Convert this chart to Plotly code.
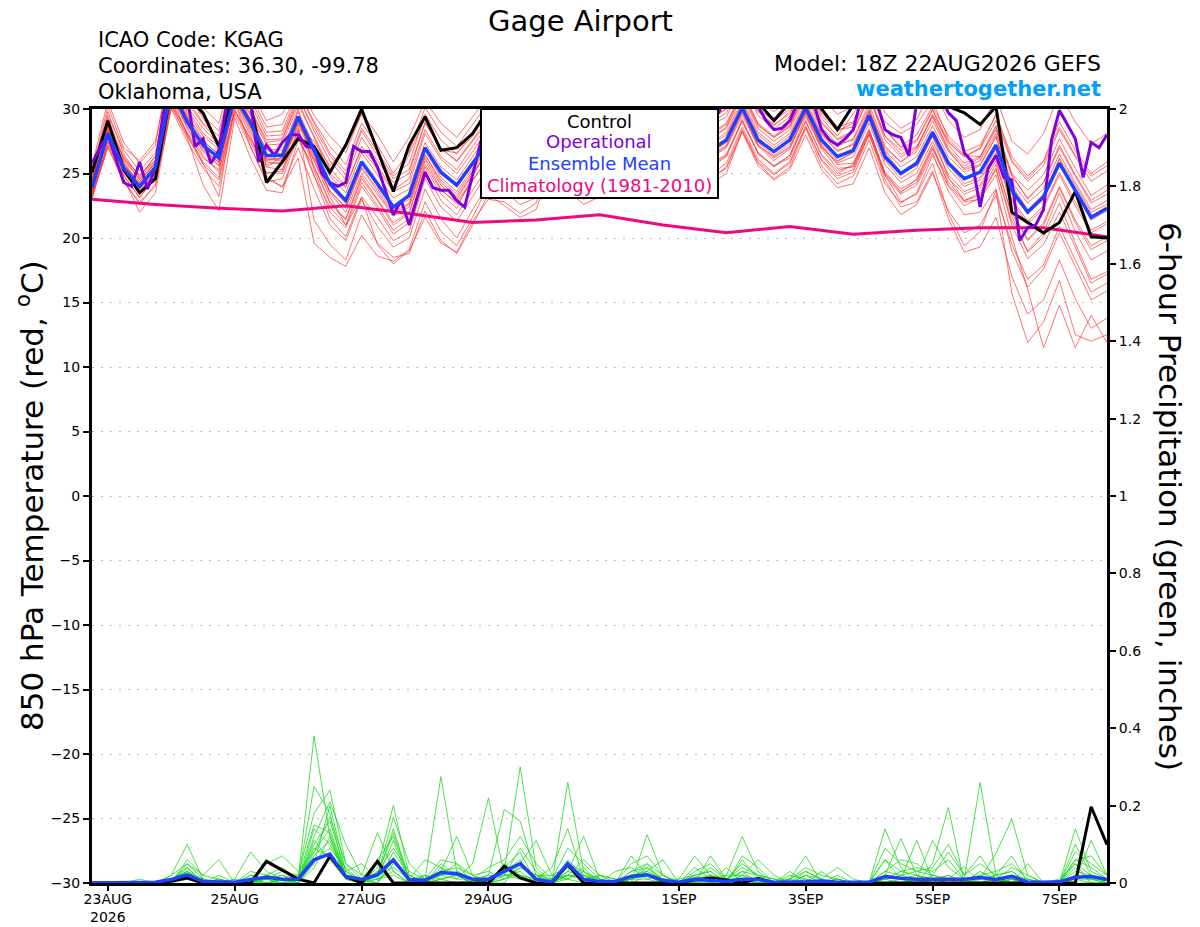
import pandas as pd
import plotly.graph_objects as go

# GEFS 18Z 22AUG2026 run, 6-hourly out to 384 h (operational GFS is 3-hourly)
times = pd.date_range("2026-08-22 18:00", periods=65, freq="6h")
times_op = pd.date_range("2026-08-22 18:00", periods=129, freq="3h")
times_clim = pd.date_range("2026-08-22 18:00", periods=17, freq="24h")

tick_dates = ["2026-08-23", "2026-08-25", "2026-08-27", "2026-08-29",
              "2026-09-01", "2026-09-03", "2026-09-05", "2026-09-07"]
tick_labels = ["23AUG<br>2026", "25AUG", "27AUG", "29AUG", "1SEP", "3SEP", "5SEP", "7SEP"]

# 850 hPa temperature (C)
control_t = [25.1, 29.1, 25.3, 23.5, 24.6, 31.5, 31.0, 29.7, 27.1, 31.5, 30.3, 24.3, 25.9,
             27.7, 27.1, 25.1, 27.2, 30.0, 26.8, 23.6, 27.2, 29.4, 26.8, 27.0, 28.1, 30.0,
             29.0, 28.0, 28.5, 31.5, 29.5, 28.5, 29.0, 31.5, 30.0, 29.0, 29.5, 32.0, 30.5,
             30.2, 30.5, 32.0, 30.5, 29.1, 30.5, 32.0, 30.0, 28.4, 30.3, 32.0, 30.5, 30.2,
             30.5, 31.5, 30.2, 29.7, 28.8, 30.2, 22.0, 21.2, 20.4, 21.2, 23.6, 20.1, 20.0]
mean_t = [23.9, 28.1, 25.4, 24.0, 25.5, 31.5, 29.0, 27.2, 26.2, 31.0, 28.9, 26.4, 26.4,
          29.4, 26.8, 24.2, 22.9, 25.9, 24.2, 22.4, 23.3, 27.0, 25.1, 24.1, 25.8, 27.5,
          26.5, 25.5, 26.0, 29.0, 27.0, 26.0, 26.5, 29.5, 27.5, 26.5, 27.0, 29.8, 27.8,
          26.8, 27.6, 30.1, 27.6, 26.7, 27.6, 30.1, 27.6, 26.3, 26.8, 29.5, 26.3, 25.0,
          25.8, 28.2, 25.8, 24.6, 25.1, 27.2, 23.7, 22.0, 23.2, 25.8, 23.7, 21.6, 22.3]
operational_t = [25.8, 27.0, 28.0, 26.2, 24.3, 24.0, 25.9, 23.8, 25.5, 29.7,
                 31.5, 32.0, 31.0, 27.1, 27.7, 25.8, 26.8, 30.5, 31.5, 31.0,
                 30.5, 25.9, 27.2, 26.4, 27.4, 28.0, 28.0, 27.1, 27.0, 25.0,
                 24.3, 24.0, 24.3, 27.1, 26.7, 26.7, 25.5, 23.7, 21.8, 22.9,
                 21.0, 23.1, 25.1, 23.9, 23.7, 23.7, 22.9, 22.4, 25.0, 27.4,
                 29.5, 31.0, 30.0, 28.5, 27.5, 27.0, 27.5, 29.5, 31.0, 31.5,
                 30.5, 28.5, 27.5, 27.0, 28.0, 30.0, 31.0, 31.5, 30.5, 29.0,
                 28.0, 27.5, 28.0, 30.0, 31.5, 32.0, 31.0, 29.5, 29.0, 29.7,
                 31.0, 32.0, 31.5, 30.5, 30.2, 29.1, 28.4, 28.5, 29.1, 30.5,
                 31.5, 30.5, 28.4, 27.6, 27.2, 27.7, 28.4, 30.8, 31.5, 30.5,
                 28.4, 28.0, 27.8, 26.4, 30.5, 32.0, 32.0, 31.0, 29.7, 29.1,
                 26.6, 25.9, 22.4, 25.4, 26.4, 24.7, 24.5, 19.8, 20.8, 21.0,
                 22.2, 27.6, 29.9, 28.8, 27.7, 24.7, 27.4, 27.0, 28.0]
clim_t = [23.0, 22.6, 22.3, 22.1, 22.5, 21.9, 21.2, 21.4, 21.8,
          21.0, 20.4, 20.9, 20.3, 20.6, 20.8, 20.8, 20.1]

temp_m01 = [24.5, 29.5, 26.8, 25.2, 26.6, 33.0, 30.5, 28.8, 27.5, 32.5, 30.4, 27.9, 28.0,
            31.0, 28.3, 26.0, 24.5, 27.8, 26.0, 24.3, 25.0, 29.0, 26.9, 26.0, 27.6, 29.4,
            28.5, 27.2, 27.9, 31.0, 29.0, 27.8, 28.4, 31.5, 29.4, 28.3, 29.0, 31.8, 29.6,
            28.7, 29.4, 32.0, 29.5, 28.5, 29.4, 32.0, 29.5, 28.3, 28.9, 31.6, 28.4, 27.1,
            28.0, 30.2, 27.9, 26.7, 27.2, 29.5, 26.0, 24.6, 25.9, 28.6, 26.4, 24.8, 25.6]
temp_m02 = [23.3, 27.4, 24.9, 23.1, 24.8, 30.6, 28.1, 25.9, 24.7, 30.0, 27.6, 25.1, 25.0,
            28.1, 24.9, 21.5, 20.1, 23.2, 21.6, 19.8, 20.5, 24.6, 22.4, 21.3, 23.2, 25.2,
            24.3, 23.1, 23.7, 27.0, 24.8, 23.7, 24.3, 27.5, 25.2, 24.0, 24.6, 27.9, 25.7,
            24.6, 25.4, 28.2, 25.6, 24.5, 25.3, 28.0, 25.3, 23.9, 24.2, 27.0, 23.5, 21.8,
            22.6, 25.0, 22.1, 20.4, 21.0, 23.3, 19.5, 16.8, 17.9, 20.9, 18.3, 15.8, 16.5]
temp_m03 = [24.1, 28.6, 25.8, 24.3, 25.9, 31.9, 29.4, 27.0, 25.6, 30.5, 27.9, 24.8, 23.9,
            26.2, 19.6, 18.5, 17.8, 20.2, 18.6, 18.2, 19.1, 22.8, 20.5, 19.4, 21.6, 24.1,
            25.3, 24.6, 25.2, 28.6, 26.4, 25.3, 25.8, 29.1, 27.0, 25.8, 26.3, 29.2, 27.1,
            26.2, 27.0, 29.5, 27.1, 26.0, 26.9, 29.8, 27.2, 25.7, 25.8, 28.4, 24.9, 22.8,
            23.4, 25.8, 21.9, 19.4, 20.5, 23.7, 15.7, 11.9, 13.5, 16.7, 12.5, 12.0, 12.5]
temp_m04 = [24.8, 28.9, 25.9, 23.9, 24.9, 32.4, 31.2, 29.3, 27.4, 32.1, 30.6, 25.5, 26.3,
            28.5, 27.5, 25.6, 27.0, 29.6, 26.9, 23.9, 26.5, 29.3, 26.8, 26.6, 27.9, 29.8,
            28.8, 27.6, 28.1, 31.2, 29.3, 28.2, 28.7, 31.4, 29.7, 28.6, 29.2, 31.9, 30.1,
            29.4, 30.0, 31.8, 29.8, 28.7, 29.8, 31.7, 29.3, 27.9, 29.6, 31.4, 29.0, 28.1,
            28.8, 30.6, 27.7, 26.4, 26.3, 28.7, 23.4, 21.9, 23.0, 26.2, 24.1, 22.0, 22.6]
temp_m05 = [23.0, 27.5, 24.6, 22.0, 23.5, 30.2, 27.8, 24.1, 22.1, 29.3, 26.2, 23.7, 23.5,
            27.6, 25.5, 22.7, 21.4, 24.6, 22.9, 21.0, 21.9, 26.0, 23.8, 22.6, 24.4, 26.3,
            25.2, 24.0, 24.6, 28.0, 25.8, 24.7, 25.2, 28.6, 26.3, 25.2, 25.8, 29.0, 26.8,
            25.6, 26.4, 29.2, 26.5, 25.6, 26.2, 29.1, 26.4, 25.0, 25.7, 28.4, 25.0, 23.5,
            24.6, 27.2, 24.1, 22.8, 23.0, 24.9, 20.1, 16.0, 11.5, 14.8, 11.5, 14.0, 11.9]
temp_m06 = [24.2, 28.0, 26.0, 24.6, 26.1, 32.2, 29.8, 27.9, 26.9, 31.7, 29.6, 27.2, 27.3,
            30.3, 27.9, 25.4, 24.0, 26.9, 25.3, 23.6, 24.2, 28.1, 26.1, 25.0, 26.7, 28.5,
            27.4, 26.4, 26.9, 30.0, 28.0, 26.9, 27.4, 30.4, 28.4, 27.3, 27.9, 30.7, 28.7,
            27.7, 28.5, 31.0, 28.5, 27.5, 28.4, 30.9, 28.4, 27.1, 27.7, 30.4, 27.1, 25.9,
            26.7, 29.1, 26.7, 25.4, 26.0, 28.1, 24.8, 23.1, 24.3, 27.0, 24.8, 22.7, 23.4]
temp_m07 = [23.4, 27.2, 24.8, 23.2, 24.6, 30.4, 28.2, 26.2, 25.3, 29.8, 27.7, 25.5, 25.3,
            28.4, 25.6, 22.8, 21.5, 24.8, 23.0, 21.2, 22.0, 25.7, 23.7, 22.8, 24.5, 26.2,
            25.4, 24.4, 24.9, 28.0, 26.0, 24.9, 25.5, 28.4, 26.4, 25.4, 25.9, 28.7, 26.7,
            25.7, 26.5, 29.0, 26.6, 25.6, 26.4, 29.0, 26.5, 25.2, 25.6, 28.3, 25.1, 23.8,
            24.5, 27.0, 24.6, 23.4, 23.9, 26.0, 21.7, 18.9, 20.1, 22.7, 19.6, 16.8, 17.4]
temp_m08 = [25.6, 30.6, 27.4, 25.8, 27.2, 33.8, 31.6, 30.1, 28.9, 33.4, 31.5, 29.1, 29.6,
            32.0, 29.5, 27.9, 26.6, 29.7, 28.0, 25.9, 27.8, 30.6, 28.9, 27.8, 29.4, 31.0,
            30.0, 28.8, 29.4, 32.5, 30.4, 29.3, 29.9, 32.8, 30.8, 29.7, 30.3, 33.1, 31.0,
            30.1, 30.8, 33.2, 30.7, 29.8, 30.7, 33.4, 30.9, 29.6, 30.2, 32.9, 29.7, 28.5,
            29.2, 31.6, 29.1, 27.8, 28.4, 30.9, 27.5, 26.5, 28.1, 31.2, 29.0, 27.3, 28.1]
temp_m09 = [23.6, 27.8, 25.1, 23.5, 25.0, 31.2, 28.6, 26.7, 25.6, 30.8, 28.4, 25.9, 25.7,
            28.8, 21.4, 19.5, 18.3, 21.8, 19.6, 18.5, 18.8, 22.1, 19.8, 18.8, 21.0, 23.4,
            22.5, 21.6, 22.2, 25.6, 23.7, 22.6, 23.2, 26.8, 24.6, 23.5, 24.1, 27.5, 25.3,
            24.2, 25.0, 28.3, 25.8, 24.6, 25.5, 28.5, 25.6, 24.2, 24.8, 27.6, 24.2, 22.7,
            23.5, 26.4, 24.0, 22.5, 23.1, 25.3, 21.3, 19.0, 20.4, 23.5, 20.5, 18.3, 19.0]
temp_m10 = [24.4, 28.8, 26.3, 24.8, 26.3, 32.6, 30.2, 28.5, 27.3, 32.0, 30.0, 27.6, 27.7,
            30.8, 28.6, 26.4, 24.9, 28.3, 26.4, 24.6, 25.3, 28.9, 27.0, 25.9, 27.5, 29.1,
            28.2, 27.0, 27.6, 30.6, 28.6, 27.6, 28.1, 31.0, 29.0, 27.9, 28.5, 31.2, 29.2,
            28.1, 28.9, 31.3, 28.8, 27.8, 28.7, 31.2, 28.6, 27.3, 27.6, 30.1, 26.7, 25.1,
            25.6, 27.9, 24.7, 22.9, 23.3, 25.4, 21.0, 18.4, 19.5, 22.0, 19.3, 16.5, 17.2]
temp_m11 = [23.8, 28.3, 25.6, 24.4, 25.8, 31.7, 29.4, 27.5, 26.5, 31.3, 29.2, 26.8, 26.5,
            29.8, 27.2, 24.8, 23.5, 26.6, 24.9, 23.1, 23.8, 27.4, 25.5, 24.5, 26.3, 28.1,
            27.0, 25.9, 26.4, 29.4, 27.4, 26.3, 26.9, 29.9, 27.9, 26.8, 27.4, 30.2, 28.1,
            27.2, 28.0, 30.5, 28.0, 27.0, 27.9, 30.4, 28.0, 26.7, 27.3, 29.9, 26.8, 25.5,
            26.3, 28.7, 26.3, 25.1, 25.6, 27.8, 24.3, 22.7, 23.8, 26.5, 24.3, 22.2, 22.9]
temp_m12 = [23.2, 27.0, 24.5, 22.6, 24.2, 30.0, 27.5, 25.4, 24.0, 29.6, 27.1, 24.3, 24.6,
            27.9, 24.8, 22.4, 21.0, 24.3, 22.5, 20.6, 21.5, 25.2, 22.9, 21.8, 23.7, 25.6,
            24.8, 23.8, 24.4, 27.6, 25.6, 24.6, 25.0, 28.2, 26.1, 25.0, 25.6, 28.6, 26.6,
            25.5, 26.3, 29.1, 26.6, 25.5, 26.4, 29.4, 27.0, 25.9, 26.7, 29.8, 27.0, 25.9,
            26.9, 29.6, 27.4, 26.3, 27.0, 29.6, 26.3, 24.8, 26.0, 29.0, 26.8, 25.0, 25.9]
temp_m13 = [25.1, 30.2, 27.0, 26.0, 27.5, 33.5, 31.0, 29.5, 28.3, 33.0, 31.1, 28.6, 28.8,
            31.5, 29.0, 27.1, 25.7, 28.9, 27.2, 25.0, 26.7, 30.1, 28.2, 27.1, 28.8, 30.5,
            29.4, 28.3, 28.8, 31.9, 29.8, 28.7, 29.3, 32.2, 30.1, 29.0, 29.6, 32.5, 30.3,
            29.2, 30.0, 32.6, 30.0, 29.1, 30.0, 32.7, 30.1, 28.6, 29.0, 31.8, 28.4, 27.0,
            27.6, 30.0, 27.2, 25.8, 26.3, 28.6, 25.0, 23.7, 24.9, 27.7, 25.4, 23.3, 24.1]
temp_m14 = [24.0, 28.4, 25.3, 23.7, 25.4, 31.0, 28.0, 25.8, 23.2, 30.6, 27.0, 24.6, 24.0,
            27.0, 23.8, 21.0, 19.8, 23.0, 20.9, 19.3, 20.0, 23.8, 21.5, 20.0, 22.2, 24.2,
            23.6, 22.6, 23.1, 26.4, 24.4, 23.4, 23.9, 27.2, 25.1, 24.1, 24.6, 27.8, 25.9,
            24.9, 25.8, 28.6, 26.1, 25.0, 25.9, 28.7, 26.0, 24.6, 25.1, 28.0, 24.8, 23.4,
            24.1, 26.6, 23.6, 21.8, 22.0, 23.8, 19.0, 16.2, 17.6, 20.4, 17.8, 15.2, 15.9]
temp_m15 = [24.3, 29.0, 25.7, 24.1, 25.7, 32.0, 29.2, 27.3, 26.0, 31.5, 29.5, 26.1, 26.0,
            29.0, 26.6, 24.0, 22.7, 25.8, 24.0, 22.3, 23.0, 26.8, 24.7, 23.6, 25.4, 27.3,
            26.2, 25.2, 25.8, 28.9, 26.8, 25.8, 26.2, 29.4, 27.3, 26.2, 26.8, 29.6, 27.6,
            26.6, 27.4, 30.0, 27.4, 26.4, 27.3, 29.8, 27.3, 26.0, 26.6, 29.2, 26.0, 24.6,
            25.4, 27.9, 25.4, 24.0, 24.5, 26.6, 23.0, 21.3, 22.5, 25.1, 22.8, 20.6, 21.3]
temp_m16 = [23.7, 28.2, 25.0, 23.8, 25.2, 31.3, 28.8, 26.8, 25.9, 30.9, 28.6, 26.2, 26.1,
            29.2, 26.4, 23.5, 22.0, 25.0, 23.4, 21.7, 22.4, 26.2, 24.1, 23.0, 24.9, 26.8,
            25.8, 24.8, 25.3, 28.4, 26.3, 25.3, 25.7, 28.9, 26.9, 25.9, 26.4, 29.3, 27.3,
            26.3, 27.1, 29.7, 27.2, 26.3, 27.1, 29.7, 27.1, 25.8, 26.3, 28.9, 25.7, 24.3,
            25.0, 27.5, 24.9, 23.6, 24.1, 26.3, 22.8, 21.1, 22.3, 24.9, 22.5, 20.4, 21.1]
temp_m17 = [24.6, 28.7, 26.2, 24.5, 25.9, 32.3, 29.6, 27.6, 26.4, 31.8, 29.1, 26.9, 26.8,
            30.0, 25.3, 22.0, 20.8, 24.0, 22.3, 20.3, 21.2, 25.5, 23.4, 22.3, 24.8, 27.0,
            26.8, 25.6, 26.3, 29.6, 27.5, 26.5, 27.0, 30.1, 28.1, 27.0, 27.6, 30.5, 28.3,
            27.3, 28.2, 30.7, 28.2, 27.2, 28.1, 30.6, 28.1, 26.8, 27.2, 29.8, 26.5, 25.0,
            25.9, 28.3, 25.7, 24.2, 24.7, 26.9, 22.2, 19.8, 21.0, 23.9, 21.2, 19.1, 19.8]
temp_m18 = [23.1, 27.1, 24.3, 22.8, 24.0, 30.3, 27.9, 25.7, 24.5, 29.9, 27.4, 25.0, 25.2,
            28.3, 26.0, 23.6, 22.4, 25.5, 23.8, 22.0, 22.7, 26.4, 24.5, 23.4, 25.2, 27.2,
            26.5, 25.5, 26.1, 29.3, 27.2, 26.2, 26.8, 30.0, 28.0, 27.0, 27.6, 30.6, 28.6,
            27.7, 28.6, 31.2, 28.7, 27.8, 28.6, 31.3, 28.9, 27.6, 28.2, 30.9, 27.9, 26.8,
            27.5, 29.9, 27.5, 26.3, 26.9, 29.1, 25.9, 24.4, 25.6, 28.4, 26.3, 24.4, 25.2]
temp_m19 = [24.0, 28.5, 25.5, 24.2, 25.6, 31.6, 29.3, 27.0, 25.8, 31.2, 28.7, 26.0, 26.2,
            29.1, 26.2, 23.7, 22.3, 25.4, 23.6, 21.8, 22.6, 26.5, 24.3, 23.2, 25.0, 26.9,
            25.9, 24.9, 25.5, 28.7, 26.6, 25.5, 26.0, 29.2, 27.1, 26.0, 26.6, 29.4, 27.3,
            26.4, 27.2, 29.8, 27.2, 26.2, 27.0, 29.6, 26.9, 25.4, 25.5, 28.1, 24.5, 22.4,
            22.8, 25.2, 21.5, 18.9, 19.3, 21.6, 17.0, 14.1, 15.2, 18.3, 15.3, 13.0, 13.8]
temp_m20 = [24.9, 29.8, 26.5, 24.7, 26.4, 32.9, 30.8, 28.9, 27.9, 32.6, 30.8, 28.2, 28.3,
            31.3, 28.9, 26.6, 25.2, 28.5, 26.7, 24.8, 25.8, 29.6, 27.6, 26.5, 28.2, 29.9,
            28.9, 27.8, 28.3, 31.4, 29.4, 28.3, 28.8, 31.7, 29.7, 28.6, 29.3, 32.0, 29.9,
            28.9, 29.7, 32.3, 29.8, 28.8, 29.6, 32.2, 29.7, 28.4, 28.6, 31.2, 27.9, 26.5,
            27.1, 29.4, 26.8, 25.3, 25.7, 27.9, 24.1, 22.2, 23.4, 26.1, 23.6, 21.4, 22.1]
temp_m21 = [23.5, 27.9, 25.2, 23.6, 25.1, 31.1, 28.5, 26.4, 25.1, 30.7, 28.2, 25.7, 25.9,
            28.9, 26.0, 23.2, 21.0, 23.1, 19.5, 18.0, 19.0, 21.6, 19.6, 18.9, 21.3, 23.0,
            22.8, 21.9, 22.7, 26.0, 24.0, 23.0, 23.6, 27.0, 25.0, 23.9, 24.5, 27.6, 25.6,
            24.6, 25.5, 28.4, 25.9, 24.9, 25.8, 28.6, 26.1, 24.8, 25.3, 28.1, 25.0, 23.6,
            24.3, 26.9, 24.3, 22.9, 23.5, 25.7, 21.9, 19.9, 21.2, 24.0, 21.4, 19.4, 20.1]
temp_m22 = [24.6, 29.3, 26.1, 24.9, 26.0, 32.5, 30.0, 28.1, 27.1, 32.2, 29.9, 27.4, 27.6,
            30.6, 27.8, 25.0, 23.9, 27.1, 25.6, 23.7, 24.6, 28.4, 26.3, 25.3, 27.1, 28.8,
            27.8, 26.6, 27.3, 30.3, 28.3, 27.2, 27.8, 30.8, 28.7, 27.6, 28.2, 31.0, 29.0,
            28.0, 28.8, 31.4, 28.9, 27.9, 28.8, 31.5, 29.0, 27.7, 28.3, 31.0, 27.6, 26.3,
            27.0, 29.5, 26.9, 25.6, 26.2, 28.4, 24.9, 23.0, 24.3, 27.2, 24.9, 22.9, 23.7]

# 6-hour precipitation (inches)
control_p = [0, 0, 0, 0, 0, 0.005, 0.013, 0, 0, 0, 0, 0.056, 0.034,
             0.01, 0, 0.069, 0.017, 0, 0.056, 0, 0, 0, 0, 0, 0, 0,
             0.043, 0.013, 0, 0, 0.047, 0, 0, 0, 0, 0, 0, 0, 0.008,
             0.013, 0.008, 0, 0.012, 0, 0, 0, 0, 0, 0, 0, 0, 0,
             0, 0, 0, 0, 0, 0, 0, 0, 0, 0, 0, 0.197, 0.099]
mean_p = [0, 0.001, 0.001, 0.002, 0.002, 0.009, 0.021, 0.004, 0.003, 0.002, 0.009, 0.015, 0.01,
          0.01, 0.06, 0.075, 0.017, 0.009, 0.021, 0.06, 0.009, 0.007, 0.027, 0.024, 0.01, 0.01,
          0.03, 0.05, 0.01, 0.002, 0.05, 0.01, 0.004, 0.004, 0.017, 0.021, 0.007, 0.002, 0.01,
          0.007, 0.004, 0.01, 0.009, 0.002, 0.002, 0.003, 0.005, 0.002, 0.002, 0.002, 0.017, 0.012,
          0.01, 0.01, 0.012, 0.01, 0.014, 0.009, 0.017, 0.002, 0.002, 0.003, 0.015, 0.017, 0.009]

precip_m01 = [0, 0, 0, 0, 0, 0.01, 0.03, 0, 0, 0, 0.02, 0.01, 0.02,
              0.01, 0.38, 0.12, 0.02, 0, 0.04, 0.20, 0.02, 0, 0.01, 0.02, 0, 0.01,
              0.03, 0.30, 0.04, 0, 0.02, 0.01, 0, 0, 0.01, 0.05, 0, 0, 0,
              0.01, 0, 0.03, 0, 0, 0, 0.01, 0, 0, 0, 0, 0.02, 0.01,
              0, 0.01, 0, 0, 0.03, 0.01, 0, 0, 0, 0, 0.02, 0.01, 0]
precip_m02 = [0, 0, 0, 0, 0, 0.02, 0.10, 0.01, 0, 0, 0, 0, 0,
              0.02, 0.18, 0.24, 0.05, 0.01, 0, 0.06, 0, 0.01, 0.03, 0.12, 0.02, 0,
              0, 0.05, 0.11, 0.02, 0.01, 0.03, 0, 0, 0.02, 0.02, 0.01, 0.01, 0.07,
              0.02, 0, 0.06, 0.01, 0, 0, 0, 0, 0, 0, 0, 0.14, 0.04,
              0, 0.01, 0.02, 0, 0, 0, 0.01, 0, 0, 0, 0.05, 0.02, 0]
precip_m03 = [0, 0, 0, 0.01, 0, 0, 0.05, 0.02, 0.06, 0, 0, 0, 0.01,
              0, 0.12, 0.21, 0.10, 0.02, 0.13, 0.03, 0, 0.01, 0.275, 0.03, 0.01, 0,
              0.01, 0.02, 0, 0, 0.26, 0.03, 0, 0, 0, 0.125, 0.02, 0, 0,
              0.07, 0.01, 0, 0, 0, 0.01, 0.07, 0, 0, 0, 0, 0, 0.01,
              0, 0.05, 0.195, 0, 0, 0, 0.01, 0, 0, 0, 0, 0, 0]
precip_m04 = [0, 0, 0, 0, 0, 0.01, 0.04, 0, 0, 0.01, 0.08, 0.03, 0.01,
              0, 0.05, 0.20, 0.03, 0, 0.02, 0.17, 0.05, 0.01, 0.02, 0.05, 0, 0.02,
              0.19, 0.16, 0.02, 0, 0.03, 0.12, 0.01, 0, 0.07, 0.02, 0, 0, 0.01,
              0, 0.02, 0.12, 0.03, 0, 0, 0.02, 0.01, 0.04, 0.01, 0, 0.02, 0.115,
              0.02, 0.01, 0, 0.01, 0.26, 0.02, 0.03, 0, 0, 0, 0.01, 0.11, 0.02]
precip_m05 = [0, 0, 0, 0, 0, 0, 0.03, 0.01, 0, 0, 0, 0.05, 0.07,
              0.03, 0.08, 0.14, 0.02, 0, 0.02, 0.13, 0.01, 0.06, 0.04, 0.01, 0.05, 0.22,
              0.02, 0.01, 0.01, 0.04, 0.14, 0.01, 0, 0, 0.02, 0.03, 0.06, 0, 0,
              0, 0, 0.02, 0.06, 0.02, 0, 0, 0.03, 0, 0, 0, 0.06, 0.01,
              0.11, 0.01, 0, 0, 0, 0.02, 0, 0.01, 0, 0, 0.14, 0.03, 0.01]
precip_m06 = [0, 0, 0, 0, 0, 0, 0.02, 0, 0, 0, 0.03, 0.02, 0.01,
              0, 0.09, 0.07, 0.03, 0.05, 0.01, 0.02, 0, 0, 0.03, 0.04, 0.02, 0,
              0.04, 0.08, 0, 0, 0.05, 0.03, 0.01, 0, 0.01, 0.04, 0, 0.01, 0.02,
              0.03, 0, 0.01, 0, 0, 0.02, 0.01, 0, 0, 0, 0, 0.03, 0.02,
              0.01, 0.11, 0.04, 0.01, 0.01, 0.077, 0.165, 0.02, 0, 0, 0.10, 0.02, 0]
precip_m07 = [0, 0, 0, 0, 0, 0, 0.06, 0.02, 0.01, 0, 0.01, 0, 0,
              0.01, 0.25, 0.18, 0.01, 0, 0.03, 0.06, 0.01, 0.02, 0.01, 0, 0.01, 0.02,
              0.02, 0.03, 0, 0.01, 0.01, 0, 0.02, 0.01, 0.01, 0.02, 0, 0, 0,
              0, 0.04, 0, 0, 0, 0, 0, 0, 0, 0, 0, 0.01, 0.03,
              0.02, 0, 0, 0, 0, 0.01, 0, 0.05, 0, 0, 0.03, 0.02, 0.01]
precip_m08 = [0, 0, 0, 0, 0, 0, 0.01, 0, 0.02, 0, 0, 0.01, 0.03,
              0.02, 0.07, 0.11, 0.02, 0.01, 0, 0.08, 0.02, 0, 0.05, 0.02, 0, 0,
              0.05, 0.02, 0.01, 0.01, 0.02, 0.02, 0, 0.03, 0.04, 0.01, 0, 0, 0.01,
              0.04, 0.01, 0.01, 0, 0, 0.01, 0.03, 0.01, 0, 0, 0, 0.01, 0.02,
              0.03, 0.02, 0.01, 0.043, 0, 0, 0.02, 0, 0, 0, 0.02, 0.01, 0]
precip_m09 = [0, 0, 0, 0, 0, 0, 0.02, 0, 0, 0, 0.01, 0.01, 0,
              0, 0.14, 0.10, 0.02, 0.01, 0.01, 0.03, 0, 0.02, 0, 0, 0, 0,
              0.03, 0.05, 0.02, 0, 0.03, 0.02, 0.01, 0, 0.03, 0.05, 0.02, 0, 0,
              0.02, 0, 0.02, 0.01, 0, 0.01, 0, 0, 0, 0, 0, 0, 0,
              0.01, 0, 0.02, 0, 0.03, 0, 0.01, 0, 0, 0.01, 0.05, 0, 0]
precip_m10 = [0, 0, 0, 0, 0, 0.02, 0.05, 0.01, 0, 0.01, 0, 0.02, 0.01,
              0.01, 0.06, 0.09, 0.04, 0, 0.02, 0.04, 0.01, 0.01, 0.02, 0.01, 0.01, 0,
              0.01, 0.04, 0.02, 0.02, 0.04, 0.01, 0.02, 0.01, 0, 0.02, 0.01, 0, 0.02,
              0, 0.01, 0.03, 0.02, 0.01, 0, 0, 0, 0.01, 0, 0, 0.01, 0,
              0, 0.02, 0.01, 0.01, 0, 0.01, 0.02, 0.01, 0, 0, 0.01, 0.01, 0.01]
precip_m11 = [0, 0, 0, 0, 0, 0, 0.04, 0, 0, 0, 0, 0.01, 0.02,
              0, 0.11, 0.06, 0.01, 0, 0.01, 0.11, 0, 0, 0.01, 0.02, 0, 0.01,
              0.02, 0.02, 0, 0, 0.01, 0.04, 0, 0, 0.01, 0.01, 0.02, 0, 0,
              0.01, 0, 0.01, 0, 0, 0.03, 0, 0, 0.01, 0, 0, 0, 0,
              0, 0, 0, 0, 0.02, 0, 0.01, 0, 0, 0, 0.01, 0, 0]
precip_m12 = [0, 0, 0, 0, 0, 0, 0.03, 0, 0.01, 0, 0, 0, 0,
              0, 0.04, 0.12, 0.01, 0, 0, 0.05, 0.02, 0, 0.04, 0.02, 0, 0.01,
              0.03, 0.06, 0, 0, 0.02, 0.01, 0, 0, 0.02, 0.02, 0, 0, 0.04,
              0.01, 0.02, 0.02, 0, 0, 0, 0, 0, 0.01, 0, 0, 0.02, 0.01,
              0.02, 0.01, 0, 0, 0.01, 0.02, 0.03, 0, 0, 0, 0.04, 0, 0]
precip_m13 = [0, 0, 0, 0, 0, 0.01, 0.02, 0.01, 0, 0, 0.01, 0, 0.01,
              0, 0.10, 0.16, 0.03, 0.01, 0.06, 0.12, 0.01, 0, 0.02, 0.03, 0.01, 0,
              0.02, 0.09, 0.03, 0, 0.06, 0.02, 0, 0, 0.03, 0.04, 0.01, 0, 0.01,
              0.02, 0.01, 0.05, 0.02, 0, 0, 0.02, 0, 0.02, 0, 0, 0.06, 0.03,
              0.04, 0.03, 0.06, 0.01, 0.02, 0.03, 0.05, 0.01, 0, 0, 0.06, 0.04, 0.01]
precip_m14 = [0, 0, 0, 0, 0, 0, 0.02, 0, 0.01, 0, 0, 0.02, 0.04,
              0.01, 0.15, 0.13, 0.02, 0, 0.03, 0.09, 0.03, 0.01, 0.06, 0.05, 0.02, 0.03,
              0.01, 0.04, 0.02, 0.01, 0.09, 0.05, 0.01, 0, 0.01, 0.03, 0.01, 0, 0.03,
              0.05, 0.01, 0.04, 0.02, 0.01, 0.01, 0.04, 0.02, 0.01, 0, 0, 0.03, 0.06,
              0.05, 0.02, 0.08, 0.02, 0.07, 0.01, 0.04, 0.02, 0, 0, 0.08, 0.05, 0.02]
precip_m15 = [0, 0, 0, 0, 0, 0.01, 0.03, 0, 0, 0, 0.02, 0.01, 0,
              0, 0.08, 0.17, 0.05, 0.02, 0.02, 0.14, 0.01, 0.01, 0.03, 0.02, 0.01, 0.04,
              0.06, 0.12, 0.05, 0.01, 0.02, 0.06, 0.02, 0, 0.05, 0.07, 0.02, 0, 0.02,
              0.03, 0, 0.07, 0.04, 0, 0, 0.03, 0.01, 0, 0, 0, 0.09, 0.05,
              0.03, 0.04, 0.10, 0.02, 0.05, 0.02, 0.07, 0, 0, 0, 0.06, 0.07, 0.02]

temp_members = [temp_m01, temp_m02, temp_m03, temp_m04, temp_m05, temp_m06, temp_m07, temp_m08,
                temp_m09, temp_m10, temp_m11, temp_m12, temp_m13, temp_m14, temp_m15, temp_m16,
                temp_m17, temp_m18, temp_m19, temp_m20, temp_m21, temp_m22]
precip_members = [precip_m01, precip_m02, precip_m03, precip_m04, precip_m05, precip_m06,
                  precip_m07, precip_m08, precip_m09, precip_m10, precip_m11, precip_m12,
                  precip_m13, precip_m14, precip_m15]

FONT = "DejaVu Sans, Liberation Sans, sans-serif"
OP_COLOR = "#8000dc"
MEAN_COLOR = "#2040ff"
CLIM_COLOR = "#f0087f"

# plot area in screenshot pixels: x 92..1107, y 109..883 (page body adds 8 px)
def px(x):
    return (x - 92) / 1015


def py(y):
    return (883 - y) / 774


def label(fig, text, x, y, size, color="black", xanchor="center", angle=0):
    fig.add_annotation(text=text, x=px(x), y=py(y), xref="paper", yref="paper",
                       xanchor=xanchor, yanchor="middle", textangle=angle, showarrow=False,
                       borderpad=0, font=dict(size=size, color=color, family=FONT))


fig = go.Figure()

for m in temp_members:
    fig.add_trace(go.Scatter(x=times, y=m, mode="lines", showlegend=False, hoverinfo="skip",
                             line=dict(color="rgba(255,45,45,0.75)", width=0.9)))
for m in precip_members:
    fig.add_trace(go.Scatter(x=times, y=m, mode="lines", yaxis="y2", showlegend=False,
                             hoverinfo="skip", line=dict(color="rgba(20,215,20,0.85)", width=0.9)))

fig.add_trace(go.Scatter(x=times_clim, y=clim_t, mode="lines", line=dict(color=CLIM_COLOR, width=3)))
fig.add_trace(go.Scatter(x=times, y=control_t, mode="lines", line=dict(color="black", width=3)))
fig.add_trace(go.Scatter(x=times_op, y=operational_t, mode="lines", line=dict(color=OP_COLOR, width=3)))
fig.add_trace(go.Scatter(x=times, y=mean_t, mode="lines", line=dict(color=MEAN_COLOR, width=3.5)))

fig.add_trace(go.Scatter(x=times, y=control_p, mode="lines", yaxis="y2",
                         line=dict(color="black", width=3)))
fig.add_trace(go.Scatter(x=times, y=mean_p, mode="lines", yaxis="y2",
                         line=dict(color=MEAN_COLOR, width=3.5)))

# legend box
fig.add_shape(type="rect", xref="paper", yref="paper", x0=px(481), x1=px(718),
              y0=py(198), y1=py(109), fillcolor="white", line=dict(color="black", width=2),
              layer="above")
label(fig, "Control", 599, 121, 18)
label(fig, "Operational", 599, 142, 18, OP_COLOR)
label(fig, "Ensemble Mean", 599, 163, 18, MEAN_COLOR)
label(fig, "Climatology (1981-2010)", 599, 185, 18, CLIM_COLOR)

# header texts
label(fig, "Gage Airport", 580, 21, 29)
label(fig, "ICAO Code: KGAG", 97, 40, 21, xanchor="left")
label(fig, "Coordinates: 36.30, -99.78", 97, 66, 21, xanchor="left")
label(fig, "Oklahoma, USA", 97, 92, 21, xanchor="left")
label(fig, "Model: 18Z 22AUG2026 GEFS", 1102, 64, 22, xanchor="right")
label(fig, "<b>weathertogether.net</b>", 1102, 89, 21, "#00a0ff", xanchor="right")

# axis titles
label(fig, "850 hPa Temperature (red, <sup>o</sup>C)", 30, 496, 31, angle=-90)
label(fig, "6-hour Precipitation (green, inches)", 1170, 496, 31, angle=90)

fig.update_layout(
    width=1192, height=919,
    margin=dict(l=84, r=93, t=101, b=44),
    paper_bgcolor="white", plot_bgcolor="white",
    font=dict(family=FONT, color="black"),
    showlegend=False,
    xaxis=dict(type="date", range=[times[0], times[-1]], tickvals=tick_dates, ticktext=tick_labels,
               ticks="outside", ticklen=5, tickwidth=1.5, tickcolor="black",
               tickfont=dict(size=14), ticklabelstandoff=-4, showgrid=False, zeroline=False,
               automargin=False, showline=True, linewidth=3, linecolor="black", mirror=True),
    yaxis=dict(range=[-30, 30], dtick=5, ticks="outside", ticklen=6, tickwidth=1.5,
               tickcolor="black", tickfont=dict(size=14), showgrid=True,
               gridcolor="#bbbbbb", griddash="2px,7px", gridwidth=1.3, zeroline=False,
               automargin=False, showline=True, linewidth=3, linecolor="black"),
    yaxis2=dict(range=[0, 2], dtick=0.2, overlaying="y", side="right", ticks="outside",
                ticklen=6, tickwidth=1.5, tickcolor="black", tickfont=dict(size=14),
                showgrid=False, zeroline=False, automargin=False,
                showline=True, linewidth=3, linecolor="black"),
)

fig.write_html("out.html")
